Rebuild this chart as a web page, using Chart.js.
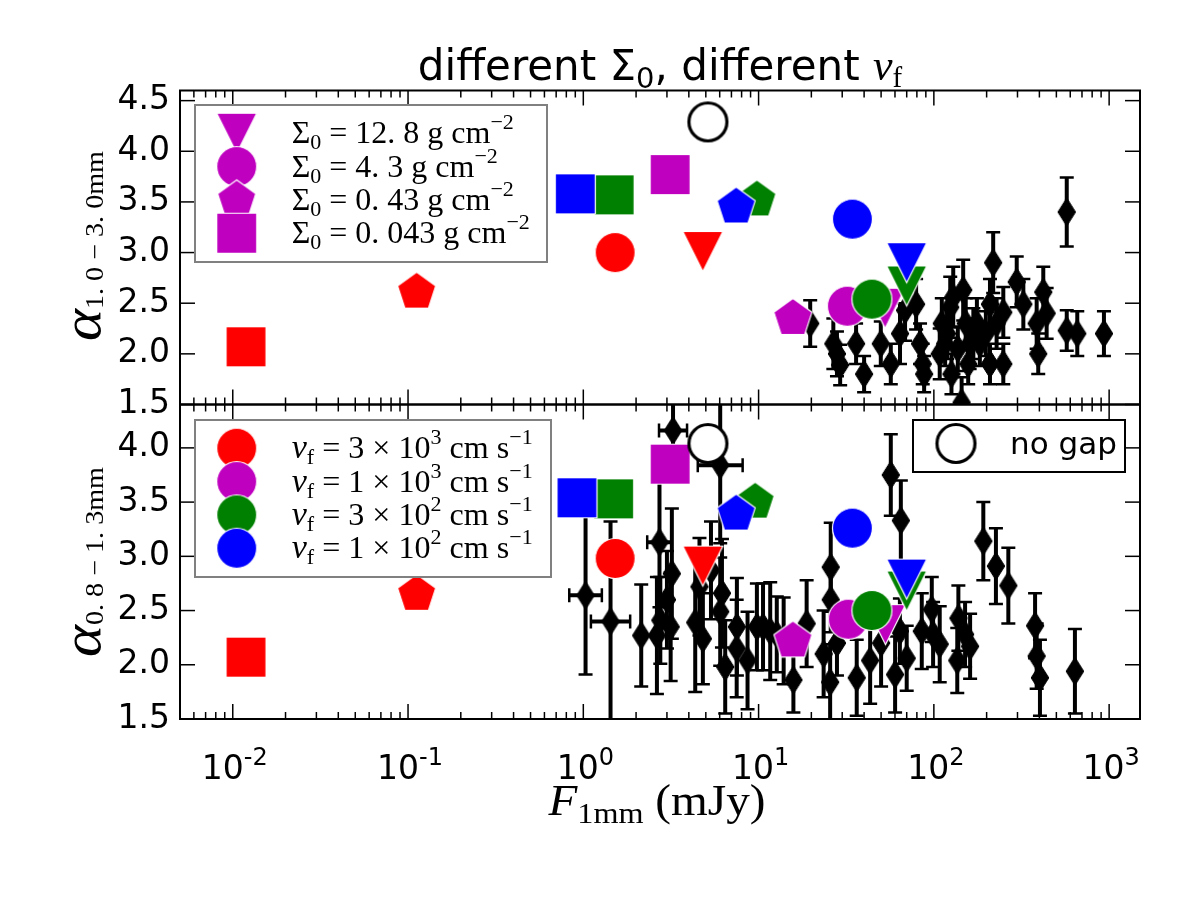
<!DOCTYPE html>
<html>
<head>
<meta charset="utf-8">
<title>different Sigma0, different vf</title>
<script src="https://cdn.jsdelivr.net/npm/chart.js@4.4.1/dist/chart.umd.min.js"></script>
<style>
body { margin: 0; background: #fff; }
#wrap { position: relative; width: 1200px; height: 900px; }
#wrap canvas { position: absolute; left: 0; }
</style>
</head>
<body>
<div id="wrap">
  <canvas id="topPanel" width="1200" height="440" style="top:0"></canvas>
  <canvas id="bottomPanel" width="1200" height="530" style="top:370px"></canvas>
</div>
<script>
// axes
const xMin = 0.005, xMax = 1500;
const xTickValues = [0.01, 0.1, 1, 10, 100, 1000];
const xTickExponents = ['-2', '-1', '0', '1', '2', '3'];
const yTicksTop = [1.5, 2.0, 2.5, 3.0, 3.5, 4.0, 4.5];
const yTicksBottom = [1.5, 2.0, 2.5, 3.0, 3.5, 4.0];
const yRangeTop = [1.5, 4.6];
const yRangeBottom = [1.5, 4.4];

// models: rows = v_f (3e3, 1e3, 3e2, 1e2 cm/s), columns = Sigma_0 (12.8, 4.3, 0.43, 0.043)
const sigmaValues = ['12. 8', '4. 3', '0. 43', '0. 043'];
const sigmaShapes = ['triangleDown', 'circle', 'pentagon', 'square'];
const vfMantissa = ['3', '1', '3', '1'];
const vfExponent = ['3', '3', '2', '2'];
const vfColors = ['#ff0000', '#bf00bf', '#008000', '#0000ff'];

const modelFluxTop = [
  [4.81, 1.52, 0.112, 0.0119],
  [52.7, 32.1, 15.7, 3.13],
  [70.0, 44.3, 9.78, 1.50],
  [70.0, 34.3, 7.45, 0.90]
];
const modelAlphaTop = [
  [3.01, 3.00, 2.61, 2.07],
  [2.45, 2.47, 2.35, 3.77],
  [2.67, 2.54, 3.52, 3.57],
  [2.90, 3.33, 3.45, 3.58]
];
const modelFluxBottom = [
  [4.81, 1.52, 0.112, 0.0119],
  [53.0, 32.5, 15.7, 3.13],
  [70.0, 44.3, 9.56, 1.49],
  [70.0, 34.3, 7.45, 0.92]
];
const modelAlphaBottom = [
  [2.91, 2.98, 2.65, 2.07],
  [2.37, 2.42, 2.22, 3.85],
  [2.68, 2.50, 3.50, 3.53],
  [2.79, 3.26, 3.39, 3.54]
];
const noGapFlux = 5.14;
const noGapAlphaTop = 4.29;
const noGapAlphaBottom = 4.04;

// observed discs, 1.0-3.0 mm
const obsFluxTop = [19.7, 26.7, 28.0, 29.2, 36.0, 40.0, 49.8, 56.8, 64.1, 68.5, 79.2, 83.4, 86.4, 88.0,
  108, 111, 116, 124, 126, 129, 144, 147, 152, 157, 160, 168, 183, 209, 218, 209, 228, 249, 249,
  297, 324, 386, 394, 421, 440, 573, 573, 658, 934, 119, 137, 176, 198];
const obsAlphaTop = [2.30, 2.10, 2.00, 1.89, 2.10, 1.80, 2.10, 1.90, 2.20, 2.43, 2.49, 2.10, 1.90, 1.80,
  2.00, 2.30, 2.10, 2.46, 1.80, 2.56, 1.52, 2.63, 2.30, 1.90, 2.10, 2.20, 2.10, 2.49, 2.90, 1.90, 2.30, 2.41, 1.90,
  2.71, 2.49, 2.30, 2.00, 2.61, 2.40, 3.40, 2.23, 2.20, 2.20, 2.20, 2.05, 2.30, 2.20];
const obsErrTop = [0.23, 0.25, 0.22, 0.20, 0.20, 0.18, 0.22, 0.20, 0.30, 0.30, 0.25, 0.20, 0.20, 0.18,
  0.25, 0.25, 0.22, 0.30, 0.20, 0.30, 0.25, 0.30, 0.25, 0.20, 0.25, 0.25, 0.22, 0.25, 0.30, 0.20, 0.25, 0.25, 0.20,
  0.25, 0.25, 0.25, 0.20, 0.25, 0.25, 0.34, 0.20, 0.22, 0.22, 0.25, 0.22, 0.25, 0.22];

// observed discs, 0.8-1.3 mm
const obsFluxBottom = [3.25, 1.03, 1.43, 2.14, 2.72, 2.63, 2.75, 3.00, 3.20, 3.15, 4.35, 4.81, 5.35, 4.60,
  6.04, 6.18, 6.04, 6.45, 7.52, 7.50, 8.65, 9.78, 10.6, 11.65, 12.7, 13.9, 15.8, 18.8, 23.5, 25.8, 25.8,
  25.6, 28.0, 36.3, 43.3, 50.0, 60.1, 64.0, 70.0, 56.8, 64.8, 85.3, 97.3, 99.0, 108, 138, 136, 150.7, 161,
  191.5, 226, 266, 378, 386, 403, 638];
const obsAlphaBottom = [4.16, 2.64, 2.40, 2.27, 3.13, 2.27, 2.41, 2.60, 2.84, 2.35, 2.39, 2.24, 2.87, 2.72,
  3.84, 2.66, 2.49, 1.98, 2.35, 2.15, 2.04, 2.35, 2.35, 2.31, 2.28, 2.22, 1.86, 2.38, 2.10, 2.90, 2.60,
  1.84, 2.20, 1.88, 2.04, 2.20, 1.91, 2.31, 2.06, 3.75, 3.33, 2.31, 2.51, 2.28, 2.19, 2.43, 2.04, 2.28, 2.17,
  3.14, 2.91, 2.73, 2.36, 2.08, 1.88, 1.94];
const obsErrBottom = [0.40, 0.73, 0.92, 0.47, 0.60, 0.54, 0.40, 0.45, 0.60, 0.50, 0.64, 0.42, 0.45, 0.45,
  0.72, 0.50, 0.50, 0.43, 0.45, 0.45, 0.45, 0.40, 0.40, 0.45, 0.35, 0.40, 0.30, 0.40, 0.40, 0.41, 0.30,
  0.35, 0.30, 0.35, 0.40, 0.40, 0.35, 0.30, 0.30, 0.375, 0.37, 0.35, 0.30, 0.30, 0.35, 0.30, 0.30, 0.30, 0.30,
  0.36, 0.35, 0.35, 0.30, 0.30, 0.35, 0.39];
// flux error in dex, 0 = none drawn
const obsFluxErrBottom = [0.08, 0.093, 0.112, 0, 0.07, 0, 0, 0, 0, 0, 0, 0, 0, 0,
  0.128, 0, 0, 0, 0, 0, 0, 0, 0, 0, 0, 0, 0, 0, 0, 0, 0,
  0, 0, 0, 0, 0, 0, 0, 0, 0, 0, 0, 0, 0, 0, 0, 0, 0, 0,
  0, 0, 0, 0, 0, 0, 0];

const SANS = "'DejaVu Sans', sans-serif";
const SERIF = "'Liberation Serif', 'DejaVu Serif', serif";

// marker images used as point styles
function shapePath(g, shape, r) {
  if (shape === 'circle') {
    g.arc(0, 0, r, 0, Math.PI * 2);
  } else if (shape === 'square') {
    g.rect(-r, -r, 2 * r, 2 * r);
  } else if (shape === 'triangleDown') {
    g.moveTo(0, r); g.lineTo(-r, -r); g.lineTo(r, -r); g.closePath();
  } else if (shape === 'pentagon') {
    for (let i = 0; i < 5; i++) {
      const a = -Math.PI / 2 + i * 2 * Math.PI / 5;
      g.lineTo(r * Math.cos(a), r * Math.sin(a));
    }
    g.closePath();
  } else if (shape === 'thinDiamond') {
    g.moveTo(0, -r); g.lineTo(r * 0.63, 0); g.lineTo(0, r); g.lineTo(-r * 0.63, 0); g.closePath();
  }
}
function markerImage(shape, fill, edge, edgeWidth, r) {
  const size = Math.ceil(2 * r + 2 * edgeWidth + 4);
  const c = document.createElement('canvas');
  c.width = size; c.height = size;
  const g = c.getContext('2d');
  g.translate(size / 2, size / 2);
  g.beginPath();
  shapePath(g, shape, r);
  g.fillStyle = fill;
  g.fill();
  g.lineWidth = edgeWidth;
  g.strokeStyle = edge;
  g.stroke();
  return c;
}
const modelMarkers = vfColors.map(col => sigmaShapes.map(s => markerImage(s, col, '#fff', 1.2, 20)));
const noGapMarker = markerImage('circle', '#fff', '#000', 3.2, 19);
const diamondMarker = markerImage('thinDiamond', '#000', '#000', 1, 14);

// text with sub/superscripts as consecutive runs; optional fit to a given width
function drawRuns(ctx, parts, x, y, align, width) {
  let total = 0;
  parts.forEach(p => { ctx.font = p.font; p.w = ctx.measureText(p.text).width; total += p.w; });
  const sx = width ? width / total : 1;
  const start = align === 'center' ? x - total * sx / 2 : x;
  ctx.save();
  ctx.translate(start, y);
  ctx.scale(sx, 1);
  ctx.textAlign = 'left';
  ctx.textBaseline = 'alphabetic';
  let cx = 0;
  parts.forEach(p => { ctx.font = p.font; ctx.fillText(p.text, cx, p.dy || 0); cx += p.w; });
  ctx.restore();
}
function drawVertical(ctx, parts, x, yCenter, width) {
  ctx.save();
  ctx.translate(x, yCenter);
  ctx.rotate(-Math.PI / 2);
  drawRuns(ctx, parts, 0, 0, 'center', width);
  ctx.restore();
}
function line(ctx, x1, y1, x2, y2) {
  ctx.beginPath(); ctx.moveTo(x1, y1); ctx.lineTo(x2, y2); ctx.stroke();
}

function errorBarPlugin(flux, alpha, yErr, xErrDex) {
  return {
    id: 'errorBars',
    beforeDatasetDraw(chart, args) {
      if (chart.data.datasets[args.index].label !== 'observed') return;
      const { ctx, chartArea: a, scales: { x, y } } = chart;
      ctx.save();
      ctx.beginPath(); ctx.rect(a.left, a.top, a.width, a.height); ctx.clip();
      ctx.strokeStyle = '#000';
      flux.forEach((f, i) => {
        const px = x.getPixelForValue(f);
        const py = y.getPixelForValue(alpha[i]);
        const y1 = y.getPixelForValue(alpha[i] + yErr[i]);
        const y2 = y.getPixelForValue(alpha[i] - yErr[i]);
        ctx.lineWidth = 4;
        line(ctx, px, y1, px, y2);
        ctx.lineWidth = 2.5;
        line(ctx, px - 7, y1, px + 7, y1);
        line(ctx, px - 7, y2, px + 7, y2);
        if (xErrDex && xErrDex[i] > 0) {
          const x1 = x.getPixelForValue(f / Math.pow(10, xErrDex[i]));
          const x2 = x.getPixelForValue(f * Math.pow(10, xErrDex[i]));
          ctx.lineWidth = 4;
          line(ctx, x1, py, x2, py);
          ctx.lineWidth = 2.5;
          line(ctx, x1, py - 7, x1, py + 7);
          line(ctx, x2, py - 7, x2, py + 7);
        }
      });
      ctx.restore();
    }
  };
}

// inward ticks on all four sides plus the frame; optional x tick labels as 10^n
function framePlugin(yTicks, showXLabels) {
  return {
    id: 'frame',
    afterDatasetsDraw(chart) {
      const { ctx, chartArea: a, scales: { x, y } } = chart;
      ctx.save();
      ctx.strokeStyle = '#000';
      ctx.lineWidth = 1.5;
      for (let d = -3; d <= 3; d++) {
        for (let k = 1; k <= 9; k++) {
          const v = k * Math.pow(10, d);
          if (v < xMin || v > xMax) continue;
          const px = x.getPixelForValue(v);
          const len = k === 1 ? 15 : 7;
          line(ctx, px, a.top, px, a.top + len);
          line(ctx, px, a.bottom, px, a.bottom - len);
        }
      }
      yTicks.forEach(v => {
        const py = y.getPixelForValue(v);
        line(ctx, a.left, py, a.left + 15, py);
        line(ctx, a.right, py, a.right - 15, py);
      });
      ctx.lineWidth = 2;
      ctx.strokeRect(a.left, a.top, a.width, a.height);
      if (showXLabels) {
        ctx.fillStyle = '#000';
        x.ticks.forEach((t, i) => {
          drawRuns(ctx, [
            { text: '10', font: '33px ' + SANS },
            { text: xTickExponents[i], font: '24px ' + SANS, dy: -14 }
          ], x.getPixelForValue(t.value) + 2, a.bottom + 60, 'center');
        });
      }
      ctx.restore();
    }
  };
}

function buildDatasets(modelFlux, modelAlpha, noGapAlpha, obsFlux, obsAlpha) {
  const sets = [];
  sets.push({
    label: 'no gap',
    data: [{ x: noGapFlux, y: noGapAlpha }],
    pointStyle: noGapMarker, pointRadius: 20, pointHoverRadius: 20, clip: 0
  });
  // blue last in list order -> drawn on top (Chart.js draws dataset 0 last)
  for (let c = vfColors.length - 1; c >= 0; c--) {
    sets.push({
      label: 'v_f ' + vfMantissa[c] + 'e' + vfExponent[c],
      data: modelFlux[c].map((f, i) => ({ x: f, y: modelAlpha[c][i] })),
      pointStyle: modelMarkers[c], pointRadius: 20, pointHoverRadius: 20, clip: 0
    });
  }
  sets.push({
    label: 'observed',
    data: obsFlux.map((f, i) => ({ x: f, y: obsAlpha[i] })),
    pointStyle: diamondMarker, pointRadius: 14, pointHoverRadius: 14, clip: 0
  });
  return sets;
}

function panelOptions(yRange, yTicks, showX, padding) {
  return {
    responsive: false,
    animation: false,
    devicePixelRatio: 1,
    events: [],
    layout: { padding: padding },
    plugins: { legend: { display: false }, tooltip: { enabled: false } },
    scales: {
      x: {
        type: 'logarithmic',
        min: xMin, max: xMax,
        display: showX,
        afterBuildTicks: s => { s.ticks = xTickValues.map(v => ({ value: v })); },
        afterFit: s => { if (showX) s.height = 181; },
        grid: { display: false, drawTicks: false },
        border: { display: false },
        ticks: { display: false }
      },
      y: {
        min: yRange[0], max: yRange[1],
        bounds: 'data',
        afterBuildTicks: s => { s.ticks = yTicks.map(v => ({ value: v })); },
        afterFit: s => { s.width = 180; },
        grid: { display: false, drawTicks: false },
        border: { display: false },
        ticks: {
          padding: 10, color: '#000',
          font: { family: SANS, size: 33 },
          callback: v => Number(v).toFixed(1)
        }
      }
    }
  };
}

// top panel: title, y label, Sigma_0 legend
const topDecor = {
  id: 'topDecor',
  afterDraw(chart) {
    const ctx = chart.ctx;
    ctx.save();
    ctx.fillStyle = '#000';
    drawRuns(ctx, [
      { text: 'different ', font: '42px ' + SANS },
      { text: 'Σ', font: '42px ' + SANS },
      { text: '0', font: '29px ' + SANS, dy: 8 },
      { text: ', different ', font: '42px ' + SANS },
      { text: 'v', font: 'italic 44px ' + SERIF },
      { text: 'f', font: '29px ' + SERIF, dy: 7 }
    ], 660, 80, 'center');
    drawVertical(ctx, [
      { text: 'α', font: 'italic 54px ' + SERIF },
      { text: '1. 0 − 3. 0mm', font: '25px ' + SERIF, dy: 3 }
    ], 100, 246, 190);

    ctx.fillStyle = '#fff';
    ctx.fillRect(195, 105, 352, 157);
    ctx.strokeStyle = '#808080';
    ctx.lineWidth = 2;
    ctx.strokeRect(195, 105, 352, 157);
    sigmaValues.forEach((s, i) => {
      const cy = 133.3 + 33.3 * i;
      const img = modelMarkers[1][i];
      ctx.drawImage(img, 236.7 - img.width / 2, cy - img.height / 2);
      ctx.fillStyle = '#000';
      drawRuns(ctx, [
        { text: 'Σ', font: '32px ' + SERIF },
        { text: '0', font: '22px ' + SERIF, dy: 6 },
        { text: ' = ' + s + ' g cm', font: '32px ' + SERIF },
        { text: '−2', font: '22px ' + SERIF, dy: -14 }
      ], 291.7, cy + 10, 'left');
    });
    ctx.restore();
  }
};

// bottom panel: x label, y label, v_f legend, no-gap legend
const Y0 = 370;
const bottomDecor = {
  id: 'bottomDecor',
  afterDraw(chart) {
    const ctx = chart.ctx;
    ctx.save();
    ctx.fillStyle = '#000';
    drawRuns(ctx, [
      { text: 'F', font: 'italic 44px ' + SERIF },
      { text: '1mm', font: '30px ' + SERIF, dy: 8 },
      { text: ' (mJy)', font: '44px ' + SERIF }
    ], 657, 815 - Y0, 'center', 217);
    drawVertical(ctx, [
      { text: 'α', font: 'italic 54px ' + SERIF },
      { text: '0. 8 − 1. 3mm', font: '25px ' + SERIF, dy: 3 }
    ], 100, 562 - Y0, 190);

    ctx.fillStyle = '#fff';
    ctx.fillRect(195, 420 - Y0, 356, 157);
    ctx.strokeStyle = '#808080';
    ctx.lineWidth = 2;
    ctx.strokeRect(195, 420 - Y0, 356, 157);
    vfColors.forEach((col, i) => {
      const cy = 448.3 + 33.3 * i - Y0;
      const img = modelMarkers[i][1];
      ctx.drawImage(img, 236.7 - img.width / 2, cy - img.height / 2);
      ctx.fillStyle = '#000';
      drawRuns(ctx, [
        { text: 'v', font: 'italic 34px ' + SERIF },
        { text: 'f', font: '22px ' + SERIF, dy: 6 },
        { text: ' = ' + vfMantissa[i] + ' × 10', font: '32px ' + SERIF },
        { text: vfExponent[i], font: '22px ' + SERIF, dy: -14 },
        { text: ' cm s', font: '32px ' + SERIF },
        { text: '−1', font: '22px ' + SERIF, dy: -14 }
      ], 291.7, cy + 10, 'left', 241);
    });

    ctx.fillStyle = '#fff';
    ctx.fillRect(913, 420 - Y0, 212, 52);
    ctx.strokeStyle = '#000';
    ctx.lineWidth = 2;
    ctx.strokeRect(913, 420 - Y0, 212, 52);
    ctx.drawImage(noGapMarker, 956 - noGapMarker.width / 2, 443.5 - Y0 - noGapMarker.height / 2);
    ctx.fillStyle = '#000';
    ctx.font = '31px ' + SANS;
    ctx.textAlign = 'left';
    ctx.textBaseline = 'alphabetic';
    ctx.fillText('no gap', 1010, 454 - Y0);
    ctx.restore();
  }
};

new Chart(document.getElementById('topPanel'), {
  type: 'scatter',
  data: { datasets: buildDatasets(modelFluxTop, modelAlphaTop, noGapAlphaTop, obsFluxTop, obsAlphaTop) },
  options: panelOptions(yRangeTop, yTicksTop, false, { left: 0, right: 60, top: 90.5, bottom: 35.5 }),
  plugins: [errorBarPlugin(obsFluxTop, obsAlphaTop, obsErrTop, null), framePlugin(yTicksTop, false), topDecor]
});

new Chart(document.getElementById('bottomPanel'), {
  type: 'scatter',
  data: { datasets: buildDatasets(modelFluxBottom, modelAlphaBottom, noGapAlphaBottom, obsFluxBottom, obsAlphaBottom) },
  options: panelOptions(yRangeBottom, yTicksBottom, true, { left: 0, right: 60, top: 34.5, bottom: 0 }),
  plugins: [errorBarPlugin(obsFluxBottom, obsAlphaBottom, obsErrBottom, obsFluxErrBottom), framePlugin(yTicksBottom, true), bottomDecor]
});
</script>
</body>
</html>
